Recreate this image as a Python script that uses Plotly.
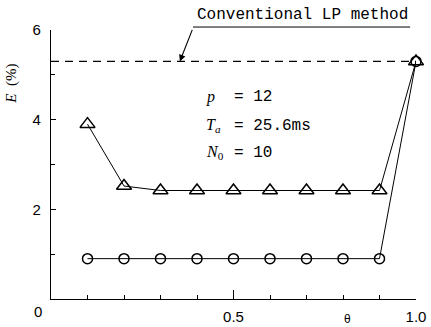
import plotly.graph_objects as go

theta = [0.1, 0.2, 0.3, 0.4, 0.5, 0.6, 0.7, 0.8, 0.9, 1.0]
e_triangle = [3.9, 2.52, 2.42, 2.42, 2.42, 2.42, 2.42, 2.42, 2.42, 5.3]
e_circle = [0.9, 0.9, 0.9, 0.9, 0.9, 0.9, 0.9, 0.9, 0.9, 5.3]
conventional_x = [0.0, 1.0]
conventional_e = [5.3, 5.3]
x_ticks = [0.5, 1.0]
x_ticktext = ["0.5", "1.0"]
y_ticks = [2, 4, 6]
y_ticktext = ["2", "4", "6"]

mono = "Liberation Mono"
fig = go.Figure()
fig.add_trace(go.Scatter(x=conventional_x, y=conventional_e, mode="lines",
                         line=dict(color="black", width=1.2, dash="8px,6px"),
                         cliponaxis=False, showlegend=False))
fig.add_trace(go.Scatter(x=theta, y=e_triangle, mode="lines+markers",
                         line=dict(color="black", width=1),
                         marker=dict(symbol="triangle-up-open", size=13, color="black",
                                     line=dict(width=1.5)),
                         cliponaxis=False, showlegend=False))
fig.add_trace(go.Scatter(x=theta, y=e_circle, mode="lines+markers",
                         line=dict(color="black", width=1),
                         marker=dict(symbol="circle-open", size=10, color="black",
                                     line=dict(width=1.5)),
                         cliponaxis=False, showlegend=False))

axfont = dict(family="Liberation Sans", size=15, color="black")
fig.update_layout(
    width=431, height=327,
    margin=dict(l=51, r=15, t=30, b=28, autoexpand=False),
    paper_bgcolor="white", plot_bgcolor="white",
    xaxis=dict(range=[0, 1.0], tickvals=x_ticks, ticktext=x_ticktext,
               ticks="inside", ticklen=9, tickcolor="black", showgrid=False, zeroline=False,
               showline=True, linecolor="black", linewidth=1.2, tickfont=axfont,
               ticklabelstandoff=4, automargin=False,
               minor=dict(dtick=0.1, tick0=0, ticks="inside", ticklen=4, tickcolor="black",
                          showgrid=False)),
    yaxis=dict(range=[0, 6], tickvals=y_ticks, ticktext=y_ticktext,
               ticks="inside", ticklen=5, tickcolor="black", showgrid=False, zeroline=False,
               showline=True, linecolor="black", linewidth=1.2, tickfont=axfont,
               ticklabelstandoff=6, automargin=False,
               minor=dict(dtick=1, tick0=0, ticks="inside", ticklen=4, tickcolor="black",
                          showgrid=False)),
)

ann = []
ann.append(dict(x=-0.036, y=-0.048, xref="paper", yref="paper", text="0", showarrow=False,
                font=axfont, xanchor="center", yanchor="middle"))
ann.append(dict(x=0.811, y=-0.074, xref="paper", yref="paper", text="θ", showarrow=False,
                font=dict(family="Liberation Sans", size=12, color="black"),
                xanchor="center", yanchor="middle"))
ann.append(dict(x=-0.107, y=0.80, xref="paper", yref="paper", text="<i>E</i>  (%)",
                textangle=-90, showarrow=False,
                font=dict(family="Liberation Serif", size=15, color="black"),
                xanchor="center", yanchor="middle"))
ann.append(dict(x=0.688, y=1.057, xref="paper", yref="paper", text="Conventional LP method",
                showarrow=False, font=dict(family=mono, size=16, color="black"),
                xanchor="center", yanchor="middle"))
ann.append(dict(x=0.353, y=5.3, xref="x", yref="y", text="", showarrow=True,
                ax=13, ay=-33, arrowhead=2, arrowsize=1.2, arrowwidth=1.1, arrowcolor="black"))
pfont = dict(family="Liberation Serif", size=16, color="black")
vfont = dict(family=mono, size=16, color="black")
labels = [("<i>p</i>", 4.5, "= 12"), ("<i>T<sub>a</sub></i>", 3.86, "= 25.6ms"),
          ("<i>N</i><sub>0</sub>", 3.26, "= 10")]
for lab, yy, val in labels:
    ann.append(dict(x=0.419, y=yy, xref="x", yref="y", text=lab, showarrow=False,
                    font=pfont, xanchor="left", yanchor="middle"))
    ann.append(dict(x=0.497, y=yy, xref="x", yref="y", text=val, showarrow=False,
                    font=vfont, xanchor="left", yanchor="middle"))
fig.update_layout(annotations=ann)
fig.add_shape(type="line", xref="paper", yref="paper", x0=0.389, x1=0.984, y0=1.011, y1=1.011,
              line=dict(color="black", width=1))

fig.write_html("out.html")
